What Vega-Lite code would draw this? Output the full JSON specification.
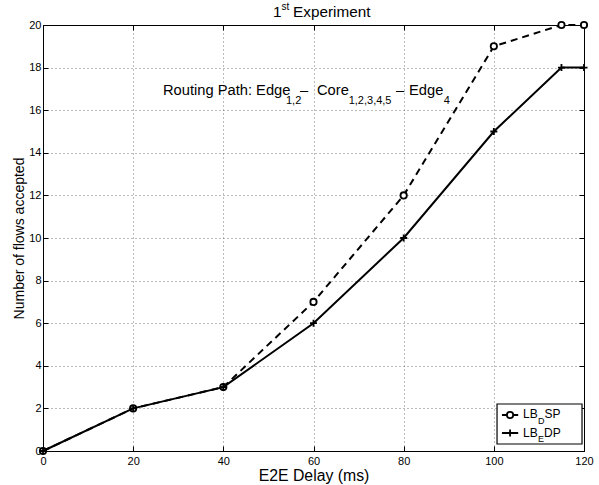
{
  "$schema": "https://vega.github.io/schema/vega-lite/v6.json",
  "width": 541,
  "height": 426,
  "autosize": {"type": "none"},
  "padding": {"left": 43, "top": 25, "right": 15, "bottom": 34},
  "background": "white",
  "config": {
    "view": {"stroke": null},
    "font": "Liberation Sans",
    "text": {"font": "Liberation Sans", "color": "black"},
    "axis": {
      "domainColor": "black",
      "domainWidth": 1,
      "tickColor": "black",
      "tickWidth": 1,
      "tickSize": -5,
      "labelColor": "black",
      "titleColor": "black",
      "labelFont": "Liberation Sans",
      "titleFont": "Liberation Sans",
      "labelFontSize": 11,
      "titleFontSize": 14,
      "titleFontWeight": "normal",
      "labelFlush": false,
      "grid": true,
      "gridColor": "#7a7a7a",
      "gridDash": [1, 3],
      "gridOpacity": 1,
      "gridWidth": 1
    }
  },
  "datasets": {
    "series": [
      {"x": 0, "y": 0, "s": "LBDSP"},
      {"x": 20, "y": 2, "s": "LBDSP"},
      {"x": 40, "y": 3, "s": "LBDSP"},
      {"x": 60, "y": 7, "s": "LBDSP"},
      {"x": 80, "y": 12, "s": "LBDSP"},
      {"x": 100, "y": 19, "s": "LBDSP"},
      {"x": 115, "y": 20, "s": "LBDSP"},
      {"x": 120, "y": 20, "s": "LBDSP"},
      {"x": 0, "y": 0, "s": "LBEDP"},
      {"x": 20, "y": 2, "s": "LBEDP"},
      {"x": 40, "y": 3, "s": "LBEDP"},
      {"x": 60, "y": 6, "s": "LBEDP"},
      {"x": 80, "y": 10, "s": "LBEDP"},
      {"x": 100, "y": 15, "s": "LBEDP"},
      {"x": 115, "y": 18, "s": "LBEDP"},
      {"x": 120, "y": 18, "s": "LBEDP"}
    ],
    "legendBox": [{"x": 100.71, "x2": 119.56, "y": 2.207, "y2": 0.329}],
    "legendDashed": [{"x": 101.8, "y": 1.69}, {"x": 105.4, "y": 1.69}],
    "legendSolid": [{"x": 101.8, "y": 0.845}, {"x": 105.4, "y": 0.845}],
    "legendCircle": [{"x": 103.6, "y": 1.69}],
    "legendPlus": [{"x": 103.6, "y": 0.845}],
    "titleText": [
      {"x": 51.02, "y": 20.376, "t": "1"},
      {"x": 55.46, "y": 20.376, "t": "Experiment"}
    ],
    "bigText": [
      {"x": 26.62, "y": 16.71, "t": "Routing Path: Edge"},
      {"x": 57.01, "y": 16.71, "t": "–"},
      {"x": 60.78, "y": 16.71, "t": "Core"},
      {"x": 78.31, "y": 16.71, "t": "–"},
      {"x": 81.19, "y": 16.71, "t": "Edge"}
    ],
    "subText": [
      {"x": 53.9, "y": 16.29, "t": "1,2"},
      {"x": 67.8, "y": 16.29, "t": "1,2,3,4,5"},
      {"x": 88.9, "y": 16.29, "t": "4"}
    ],
    "supText": [{"x": 52.9, "y": 20.7, "t": "st"}],
    "legendText": [
      {"x": 106.48, "y": 1.549, "t": "LB"},
      {"x": 111.23, "y": 1.549, "t": "SP"},
      {"x": 106.48, "y": 0.657, "t": "LB"},
      {"x": 111.12, "y": 0.657, "t": "DP"}
    ],
    "legendSub": [
      {"x": 109.8, "y": 1.268, "t": "D"},
      {"x": 109.8, "y": 0.423, "t": "E"}
    ]
  },
  "resolve": {"axis": {"x": "independent", "y": "independent"}},
  "layer": [
    {
      "data": {"name": "series"},
      "mark": {"type": "point", "opacity": 0},
      "encoding": {
        "x": {"field": "x", "type": "quantitative", "scale": {"domain": [0, 120], "nice": false},
          "axis": {"orient": "bottom", "title": "E2E Delay (ms)", "titleFontSize": 15.8, "values": [0, 20, 40, 60, 80, 100, 120], "labelPadding": 9, "titlePadding": 2}},
        "y": {"field": "y", "type": "quantitative", "scale": {"domain": [0, 20], "nice": false},
          "axis": {"orient": "left", "title": "Number of flows accepted", "values": [0, 2, 4, 6, 8, 10, 12, 14, 16, 18, 20], "labelPadding": 7, "titlePadding": 2}}
      }
    },
    {
      "data": {"name": "series"},
      "mark": {"type": "point", "opacity": 0},
      "encoding": {
        "x": {"field": "x", "type": "quantitative", "axis": {"orient": "top", "title": null, "labels": false, "values": [0, 20, 40, 60, 80, 100, 120]}},
        "y": {"field": "y", "type": "quantitative", "axis": {"orient": "right", "title": null, "labels": false, "values": [0, 2, 4, 6, 8, 10, 12, 14, 16, 18, 20]}}
      }
    },
    {
      "data": {"name": "series"},
      "transform": [{"filter": "datum.s === 'LBDSP'"}],
      "mark": {"type": "line", "color": "black", "strokeWidth": 2, "strokeDash": [7, 5]},
      "encoding": {
        "x": {"field": "x", "type": "quantitative", "axis": null},
        "y": {"field": "y", "type": "quantitative", "axis": null}
      }
    },
    {
      "data": {"name": "series"},
      "transform": [{"filter": "datum.s === 'LBDSP'"}],
      "mark": {"type": "point", "shape": "circle", "filled": false, "fill": "white", "fillOpacity": 1, "stroke": "black", "strokeWidth": 1.8, "size": 40, "opacity": 1},
      "encoding": {
        "x": {"field": "x", "type": "quantitative", "axis": null},
        "y": {"field": "y", "type": "quantitative", "axis": null}
      }
    },
    {
      "data": {"name": "series"},
      "transform": [{"filter": "datum.s === 'LBEDP'"}],
      "mark": {"type": "line", "color": "black", "strokeWidth": 2},
      "encoding": {
        "x": {"field": "x", "type": "quantitative", "axis": null},
        "y": {"field": "y", "type": "quantitative", "axis": null}
      }
    },
    {
      "data": {"name": "series"},
      "transform": [{"filter": "datum.s === 'LBEDP'"}],
      "mark": {"type": "point", "shape": "M-1,0L1,0M0,-1L0,1", "filled": false, "stroke": "black", "strokeWidth": 1.8, "size": 49, "opacity": 1},
      "encoding": {
        "x": {"field": "x", "type": "quantitative", "axis": null},
        "y": {"field": "y", "type": "quantitative", "axis": null}
      }
    },
    {
      "data": {"name": "legendBox"},
      "mark": {"type": "rect", "fill": "white", "stroke": "black", "strokeWidth": 1.2},
      "encoding": {
        "x": {"field": "x", "type": "quantitative", "axis": null},
        "x2": {"field": "x2"},
        "y": {"field": "y", "type": "quantitative", "axis": null},
        "y2": {"field": "y2"}
      }
    },
    {
      "data": {"name": "legendDashed"},
      "mark": {"type": "line", "color": "black", "strokeWidth": 2, "strokeDash": [7, 5]},
      "encoding": {
        "x": {"field": "x", "type": "quantitative", "axis": null},
        "y": {"field": "y", "type": "quantitative", "axis": null}
      }
    },
    {
      "data": {"name": "legendSolid"},
      "mark": {"type": "line", "color": "black", "strokeWidth": 2},
      "encoding": {
        "x": {"field": "x", "type": "quantitative", "axis": null},
        "y": {"field": "y", "type": "quantitative", "axis": null}
      }
    },
    {
      "data": {"name": "legendCircle"},
      "mark": {"type": "point", "shape": "circle", "filled": false, "fill": "white", "fillOpacity": 1, "stroke": "black", "strokeWidth": 1.8, "size": 40, "opacity": 1},
      "encoding": {
        "x": {"field": "x", "type": "quantitative", "axis": null},
        "y": {"field": "y", "type": "quantitative", "axis": null}
      }
    },
    {
      "data": {"name": "legendPlus"},
      "mark": {"type": "point", "shape": "M-1,0L1,0M0,-1L0,1", "filled": false, "stroke": "black", "strokeWidth": 1.8, "size": 49, "opacity": 1},
      "encoding": {
        "x": {"field": "x", "type": "quantitative", "axis": null},
        "y": {"field": "y", "type": "quantitative", "axis": null}
      }
    },
    {
      "data": {"name": "titleText"},
      "mark": {"type": "text", "fontSize": 15.3, "align": "left", "baseline": "alphabetic", "color": "black"},
      "encoding": {
        "x": {"field": "x", "type": "quantitative", "axis": null},
        "y": {"field": "y", "type": "quantitative", "axis": null},
        "text": {"field": "t"}
      }
    },
    {
      "data": {"name": "bigText"},
      "mark": {"type": "text", "fontSize": 14.7, "align": "left", "baseline": "alphabetic", "color": "black"},
      "encoding": {
        "x": {"field": "x", "type": "quantitative", "axis": null},
        "y": {"field": "y", "type": "quantitative", "axis": null},
        "text": {"field": "t"}
      }
    },
    {
      "data": {"name": "subText"},
      "mark": {"type": "text", "fontSize": 11, "align": "left", "baseline": "alphabetic", "color": "black"},
      "encoding": {
        "x": {"field": "x", "type": "quantitative", "axis": null},
        "y": {"field": "y", "type": "quantitative", "axis": null},
        "text": {"field": "t"}
      }
    },
    {
      "data": {"name": "supText"},
      "mark": {"type": "text", "fontSize": 10, "align": "left", "baseline": "alphabetic", "color": "black"},
      "encoding": {
        "x": {"field": "x", "type": "quantitative", "axis": null},
        "y": {"field": "y", "type": "quantitative", "axis": null},
        "text": {"field": "t"}
      }
    },
    {
      "data": {"name": "legendText"},
      "mark": {"type": "text", "fontSize": 12, "align": "left", "baseline": "alphabetic", "color": "black"},
      "encoding": {
        "x": {"field": "x", "type": "quantitative", "axis": null},
        "y": {"field": "y", "type": "quantitative", "axis": null},
        "text": {"field": "t"}
      }
    },
    {
      "data": {"name": "legendSub"},
      "mark": {"type": "text", "fontSize": 9, "align": "left", "baseline": "alphabetic", "color": "black"},
      "encoding": {
        "x": {"field": "x", "type": "quantitative", "axis": null},
        "y": {"field": "y", "type": "quantitative", "axis": null},
        "text": {"field": "t"}
      }
    }
  ]
}
